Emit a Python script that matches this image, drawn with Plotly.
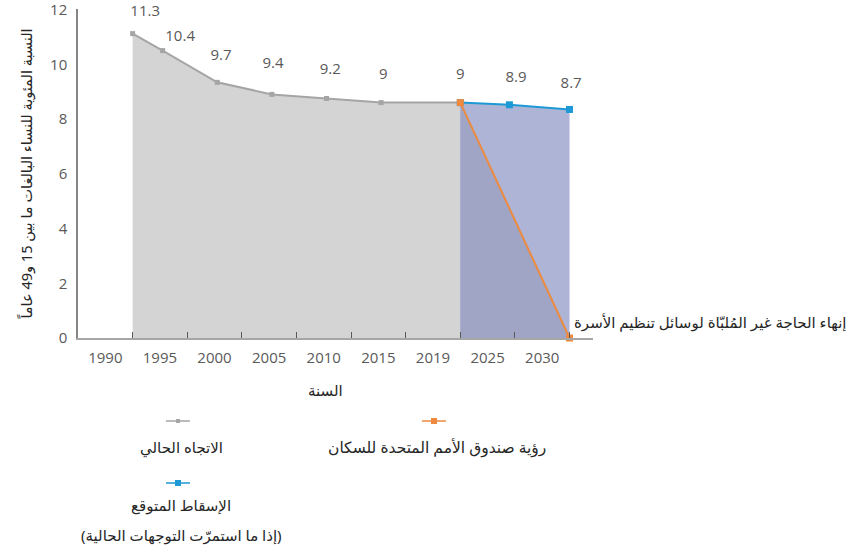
import plotly.graph_objects as go

# category labels for the x axis
categories = ["1990", "1995", "2000", "2005", "2010", "2015", "2019", "2025", "2030"]

# current trend (gray) — positions on the category scale and plotted values
trend_x = [1.0, 1.55, 2.55, 3.55, 4.55, 5.55, 7.0]
trend_y = [11.12, 10.5, 9.34, 8.9, 8.75, 8.6, 8.6]

# projection (blue)
proj_x = [7.0, 7.9, 9.0]
proj_y = [8.6, 8.52, 8.35]

# UNFPA vision (orange)
vision_x = [7.0, 9.0]
vision_y = [8.6, 0.0]

# data labels shown on the chart (value texts) and where they sit on the category scale
label_x = [1.23, 1.87, 2.62, 3.57, 4.62, 5.59, 7.0, 8.02, 9.03]
label_values = [11.3, 10.4, 9.7, 9.4, 9.2, 9, 9, 8.9, 8.7]

y_ticks = [0, 2, 4, 6, 8, 10, 12]

AR = "Noto Sans, DejaVu Sans, sans-serif"
NUM = "Open Sans, Noto Sans, sans-serif"
TXT = "#595959"

fig = go.Figure()

fig.add_trace(go.Scatter(
    x=trend_x, y=trend_y, mode="lines+markers", fill="tozeroy",
    fillcolor="rgb(212,212,212)", line=dict(color="#a5a5a5", width=2),
    marker=dict(symbol="square", size=5, color="#a5a5a5"),
    cliponaxis=False, showlegend=False))

fig.add_trace(go.Scatter(
    x=proj_x, y=proj_y, mode="lines", fill="tozeroy",
    fillcolor="rgb(174,180,214)", line=dict(color="rgba(0,0,0,0)", width=0),
    showlegend=False, hoverinfo="skip"))

fig.add_trace(go.Scatter(
    x=vision_x, y=vision_y, mode="lines", fill="tozeroy",
    fillcolor="rgb(160,165,198)", line=dict(color="rgba(0,0,0,0)", width=0),
    showlegend=False, hoverinfo="skip"))

fig.add_trace(go.Scatter(
    x=proj_x, y=proj_y, mode="lines+markers",
    line=dict(color="#1d9ad6", width=2),
    marker=dict(symbol="square", size=7, color="#1d9ad6"),
    cliponaxis=False, showlegend=False))

fig.add_trace(go.Scatter(
    x=vision_x, y=vision_y, mode="lines+markers",
    line=dict(color="#ed8a3f", width=2),
    marker=dict(symbol="square", size=7, color="#ed8a3f"),
    cliponaxis=False, showlegend=False))

# data-label texts (invisible marker pushes text up a little)
fig.add_trace(go.Scatter(
    x=label_x, y=label_values, mode="markers+text",
    marker=dict(size=12, opacity=0),
    text=[f"{v:g}" for v in label_values], textposition="top center",
    textfont=dict(family=NUM, size=15, color=TXT), cliponaxis=False,
    showlegend=False, hoverinfo="skip"))

fig.add_trace(go.Scatter(x=[0.5], y=[0], xaxis="x2", mode="markers",
                         marker=dict(opacity=0), showlegend=False, hoverinfo="skip"))

xr = [0, 9.43]
fig.update_layout(
    width=851, height=552,
    margin=dict(l=78, r=258, t=9, b=214),
    plot_bgcolor="white", paper_bgcolor="white",
    xaxis=dict(range=xr, tickvals=list(range(1, 10)), showticklabels=False,
               ticks="inside", ticklen=6, tickcolor="#595959", showgrid=False,
               zeroline=False, showline=True, linecolor="#a6a6a6", linewidth=1.5,
               automargin=False),
    xaxis2=dict(range=xr, overlaying="x", anchor="y", side="bottom",
                tickvals=[i + 0.5 for i in range(len(categories))], ticktext=categories,
                ticks="", showgrid=False, zeroline=False, showline=False,
                ticklabelstandoff=9,
                tickfont=dict(family=NUM, size=15, color=TXT), automargin=False),
    yaxis=dict(range=[0, 12.02], tickvals=y_ticks, showgrid=False, zeroline=False,
               showline=True, linecolor="#868686", linewidth=1.5, ticks="",
               tickfont=dict(family=NUM, size=15, color=TXT), ticklabelstandoff=6,
               ticklabeloverflow="allow", automargin=False,
               title=dict(text="النسبة المئوية للنساء البالغات ما بين 15 و49 عاماً",
                          font=dict(family=AR, size=14.5, color="#262626"), standoff=14)),
)

def px(v):
    return (v - 78) / 515

def py(v):
    return (552 - 214 - v) / 329

annotations = [
    dict(text="السنة", x=325, y=390, anchor="center", size=15),
    dict(text="إنهاء الحاجة غير المُلبّاة لوسائل تنظيم الأسرة", x=849, y=322, anchor="right", size=15),
    dict(text="الاتجاه الحالي", x=181, y=447, anchor="center", size=15),
    dict(text="رؤية صندوق الأمم المتحدة للسكان", x=437, y=447, anchor="center", size=15.5),
    dict(text="الإسقاط المتوقع", x=181, y=505, anchor="center", size=15),
    dict(text="(إذا ما استمرّت التوجهات الحالية)", x=181, y=535, anchor="center", size=15),
]
for a in annotations:
    fig.add_annotation(text=a["text"], xref="paper", yref="paper",
                       x=px(a["x"]), y=py(a["y"]),
                       showarrow=False, xanchor=a["anchor"], yanchor="middle",
                       font=dict(family=AR, size=a["size"], color="#262626"))

keys = [(178, 421, "#a5a5a5", 4), (434, 421, "#ed8a3f", 6), (178, 483, "#1d9ad6", 6)]
for kx, ky, col, ms in keys:
    fig.add_shape(type="line", xref="paper", yref="paper",
                  x0=px(kx - 12), x1=px(kx + 12), y0=py(ky), y1=py(ky),
                  line=dict(color=col, width=1.5))
    fig.add_shape(type="rect", xref="paper", yref="paper",
                  x0=px(kx - ms / 2), x1=px(kx + ms / 2), y0=py(ky - ms / 2), y1=py(ky + ms / 2),
                  line=dict(width=0), fillcolor=col)

fig.write_html("out.html", config={"displayModeBar": False},
               post_script="document.body.style.margin='0';")
